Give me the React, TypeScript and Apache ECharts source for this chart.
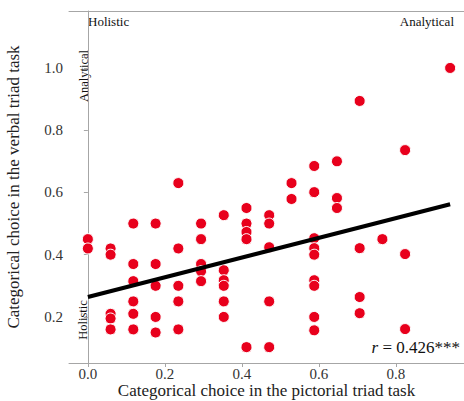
import React, { useEffect, useRef } from "react";
import * as echarts from "echarts";

const pictorial = [
  0, 0,
  0.059, 0.059, 0.059, 0.059, 0.059,
  0.118, 0.118, 0.118, 0.118, 0.118, 0.118,
  0.176, 0.176, 0.176, 0.176, 0.176,
  0.235, 0.235, 0.235, 0.235, 0.235,
  0.294, 0.294, 0.294, 0.294, 0.294,
  0.353, 0.353, 0.353, 0.353, 0.353, 0.353,
  0.412, 0.412, 0.412, 0.412, 0.412,
  0.471, 0.471, 0.471, 0.471, 0.471,
  0.529, 0.529,
  0.588, 0.588, 0.588, 0.588, 0.588, 0.588, 0.588, 0.588, 0.588,
  0.647, 0.647, 0.647,
  0.706, 0.706, 0.706, 0.706,
  0.765,
  0.824, 0.824, 0.824,
  0.941,
];
const verbal = [
  0.45, 0.42,
  0.42, 0.40, 0.21, 0.195, 0.16,
  0.50, 0.37, 0.315, 0.25, 0.21, 0.16,
  0.50, 0.37, 0.30, 0.20, 0.15,
  0.63, 0.42, 0.30, 0.25, 0.16,
  0.50, 0.45, 0.37, 0.347, 0.315,
  0.527, 0.35, 0.318, 0.30, 0.25, 0.20,
  0.55, 0.50, 0.473, 0.45, 0.103,
  0.527, 0.50, 0.424, 0.25, 0.103,
  0.63, 0.579,
  0.685, 0.601, 0.453, 0.421, 0.40, 0.318, 0.30, 0.20, 0.157,
  0.70, 0.582, 0.55,
  0.894, 0.421, 0.264, 0.212,
  0.45,
  0.736, 0.402, 0.161,
  1.0,
];
const fitX = [0, 0.941];
const fitY = [0.264, 0.562];
const xTicks = [0, 0.2, 0.4, 0.6, 0.8];
const yTicks = [0.2, 0.4, 0.6, 0.8, 1.0];
const rText = "0.426***";

const FONT = "'Liberation Serif', 'Times New Roman', serif";

export default function App() {
  const ref = useRef<HTMLDivElement>(null);
  useEffect(() => {
    document.body.style.margin = "0";
    const chart = echarts.init(ref.current!, null, { renderer: "svg" });
    const axisLineStyle = { color: "#a6a6a6", width: 1 };
    chart.setOption({
      animation: false,
      backgroundColor: "#fff",
      textStyle: { fontFamily: FONT },
      grid: { left: 69, top: 11, right: 0, bottom: 38, containLabel: false, outerBoundsMode: "none" },
      xAxis: [
        {
          type: "value",
          min: -0.049,
          max: 0.977,
          name: "Categorical choice in the pictorial triad task",
          nameLocation: "middle",
          nameGap: 19,
          nameMoveOverlap: false,
          nameTextStyle: { fontFamily: FONT, fontSize: 17, color: "#222" },
          axisLine: { show: true, lineStyle: axisLineStyle },
          axisTick: { show: true, length: 4, customValues: xTicks, lineStyle: axisLineStyle },
          axisLabel: {
            customValues: xTicks,
            formatter: (v: number) => v.toFixed(1),
            fontFamily: FONT,
            fontSize: 15,
            color: "#333",
            margin: 3,
          },
          splitLine: { show: false },
        },
        {
          type: "value",
          position: "top",
          min: -0.049,
          max: 0.977,
          axisLine: { show: true, lineStyle: axisLineStyle },
          axisTick: { show: false },
          axisLabel: { show: false },
          splitLine: { show: false },
        },
      ],
      yAxis: {
        type: "value",
        min: 0.052,
        max: 1.183,
        name: "Categorical choice in the verbal triad task",
        nameLocation: "middle",
        nameGap: 47,
        nameMoveOverlap: false,
        nameTextStyle: { fontFamily: FONT, fontSize: 17, color: "#222" },
        axisLine: { show: true, lineStyle: axisLineStyle },
        axisTick: { show: true, length: 4, customValues: yTicks, lineStyle: axisLineStyle },
        axisLabel: {
          customValues: yTicks,
          formatter: (v: number) => v.toFixed(1),
          fontFamily: FONT,
          fontSize: 15,
          color: "#333",
          margin: 6,
        },
        splitLine: { show: false },
      },
      series: [
        {
          type: "scatter",
          xAxisIndex: 0,
          data: pictorial.map((x, i) => [x, verbal[i]]),
          symbolSize: 11,
          itemStyle: { color: "#e8001c", borderColor: "#fff", borderWidth: 1, opacity: 1 },
          z: 2,
        },
        {
          type: "line",
          xAxisIndex: 0,
          data: fitX.map((x, i) => [x, fitY[i]]),
          showSymbol: false,
          symbol: "none",
          lineStyle: { color: "#000", width: 4, cap: "butt" },
          z: 3,
        },
      ],
      graphic: [
        {
          type: "text",
          left: 88,
          top: 15,
          style: { text: "Holistic", fontFamily: FONT, fontSize: 13, fill: "#111" },
        },
        {
          type: "text",
          right: 10,
          top: 15,
          style: { text: "Analytical", fontFamily: FONT, fontSize: 13, fill: "#111" },
        },
        {
          type: "text",
          x: 84,
          y: 76,
          rotation: Math.PI / 2,
          style: {
            text: "Analytical",
            fontFamily: FONT,
            fontSize: 12.5,
            fill: "#111",
            align: "center",
            verticalAlign: "middle",
          },
        },
        {
          type: "text",
          x: 83,
          y: 320,
          rotation: Math.PI / 2,
          style: {
            text: "Holistic",
            fontFamily: FONT,
            fontSize: 12.5,
            fill: "#111",
            align: "center",
            verticalAlign: "middle",
          },
        },
        {
          type: "text",
          x: 460,
          y: 347,
          style: {
            text: "{i|r}{n| = " + rText + "}",
            fontFamily: FONT,
            fontSize: 17,
            fill: "#111",
            align: "right",
            verticalAlign: "middle",
            rich: {
              i: { fontStyle: "italic", fontFamily: FONT, fontSize: 17, fill: "#111" },
              n: { fontFamily: FONT, fontSize: 17, fill: "#111" },
            },
          },
        },
      ],
    });
    return () => chart.dispose();
  }, []);
  return <div ref={ref} style={{ width: 464, height: 401 }} />;
}
